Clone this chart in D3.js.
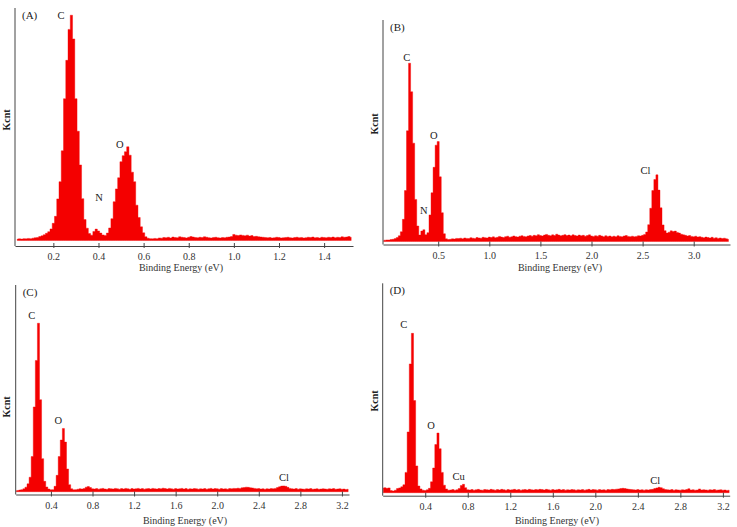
<!DOCTYPE html>
<html>
<head>
<meta charset="utf-8">
<script src="https://cdn.jsdelivr.net/npm/d3@7"></script>
<style>
  body { margin: 0; background: #fff; }
  svg text { font-family: "Liberation Serif", "DejaVu Serif", serif; }
</style>
</head>
<body>
<script>
// EDS spectra, counts in Kcnt (arbitrary, 100 = top of the y axis)

// (A) channels of 0.01 eV from 0.04 eV
const startA = 0.04, stepA = 0.01;
const countsA = [
  0.6, 0.7, 0.6, 0.8, 0.7, 0.9, 0.8, 1.0, 1.2,
  1.3, 1.7, 2.0, 2.5, 3.1, 3.8, 5.0, 7.4, 10.4, 17.9, 25.3, 38.6, 61, 77.5, 90.8, 96.9, 86.7,
  61, 47, 32.5, 18, 9, 5.3, 3.0, 2.3, 3.9, 4.9, 4.1, 3.2, 2.4, 2.2, 3.2, 5.4, 9.4, 16.7, 22.2,
  27, 33.9, 36.5, 38.2, 40.3, 36.7, 29.4, 25.3, 15.2, 9.9, 5.9, 3.3, 1.6, 1.0, 0.8,
  0.7, 0.9, 0.8, 1.1, 1.0, 1.3, 1.2, 1.4, 1.1, 1.5, 1.3, 1.2, 1.6, 1.4, 1.3, 1.1, 1.4, 1.7,
  1.5, 1.3, 1.2, 1.4, 1.3, 1.6, 1.4, 1.2, 1.1, 1.3, 1.4, 1.2, 1.1, 1.3, 1.2, 1.4, 1.5, 1.7,
  2.6, 2.3, 2.1, 2.4, 2.2, 2.0, 2.3, 1.9, 2.1, 1.7, 1.8, 1.6, 1.5,
  1.4, 1.3, 1.2, 1.3, 1.1, 1.2, 1.4, 1.3, 1.1, 1.2, 1.3, 1.4, 1.2, 1.1, 1.3, 1.4, 1.2, 1.3, 1.1, 1.2,
  1.4, 1.3, 1.5, 1.2, 1.3, 1.1, 1.4, 1.3, 1.2, 1.4, 1.3, 1.5, 1.2, 1.4, 1.3, 1.6, 1.4, 1.5, 1.7, 1.4
];

// (B) channels of 0.02 eV from -0.04 eV
const startB = -0.04, stepB = 0.02;
const countsB = [
  0.5, 0.6, 0.7, 0.7, 0.9, 1.0, 1.3, 1.8,
  2.6, 4.4, 10, 23, 50, 80.5, 67.6, 44.4, 19, 7, 2.9, 4.7, 5.3, 3.1, 4.0, 12, 22, 33.5, 43.5, 45.1,
  29.2, 13, 3.5, 1.2, 0.9,
  1.0, 1.2, 1.1, 1.4, 1.3, 1.5, 1.2, 1.6, 1.4, 1.3, 1.7, 1.5, 1.4, 1.8, 1.6, 1.5, 1.9, 1.7, 1.6, 2.0,
  1.8, 2.1, 1.7, 1.9, 2.3, 2.0, 1.8, 2.2, 2.4, 1.9, 2.1, 2.5, 2.2, 2.0, 2.4, 2.6, 2.3, 2.1, 2.5, 2.7,
  2.4, 2.8, 2.6, 3.1, 2.7, 2.5, 2.9, 3.2, 2.8, 2.6, 3.0, 2.7, 3.3, 2.9, 2.6, 2.8, 3.1, 2.7, 2.9, 2.6,
  3.0, 2.7, 2.5, 2.9, 2.6, 2.8, 2.4, 2.7, 3.0, 2.5, 2.3, 2.6, 2.4, 2.8, 2.5, 2.2, 2.6, 2.3, 2.5, 2.1,
  2.4, 2.2, 2.6, 2.3, 2.1, 2.5, 2.7, 2.3, 2.2, 2.4, 2.1, 2.3, 2.6, 2.5, 2.8,
  3.2, 4.3, 7.6, 15, 23, 28, 30.1, 23.2, 15.2, 7.5, 4.9, 3.8, 4.2, 4.8, 4.5, 4.7, 4.1, 3.8, 3.3, 3.0,
  2.8, 2.5, 2.7, 2.3, 2.1, 2.4, 2.0, 2.2, 1.9, 1.7, 2.0, 1.8, 1.6, 1.9, 1.5, 1.7, 1.4, 1.6, 1.3, 1.5, 1.2, 1.0
];

// (C) channels of 0.02 eV from 0.06 eV
const startC = 0.06, stepC = 0.02;
const countsC = [
  0.4, 0.6, 0.8, 1.0, 1.4, 2.2, 3.8,
  7, 17, 41, 63.5, 81.5, 44.5, 16, 5, 2.3, 1.3, 0.9, 1.0, 2.6, 7.9, 17, 25, 30.6, 24, 11, 3.4, 1.4, 0.9,
  1.0, 1.2, 1.4, 1.3, 1.5, 2.2, 2.5, 2.0, 1.4, 1.3, 1.5, 1.2, 1.4, 1.6, 1.3, 1.2, 1.5, 1.4, 1.3, 1.6,
  1.4, 1.2, 1.5, 1.3, 1.6, 1.4, 1.2, 1.5, 1.3, 1.4, 1.6, 1.3, 1.5, 1.2, 1.4, 1.5, 1.3, 1.6, 1.4, 1.3,
  1.5, 1.4, 1.7, 1.5, 1.3, 1.6, 1.4, 1.2, 1.5, 1.3, 1.4, 1.6, 1.3, 1.5, 1.2, 1.4, 1.3, 1.5, 1.4, 1.2,
  1.4, 1.3, 1.5, 1.2, 1.4, 1.6, 1.3, 1.5, 1.4, 1.2, 1.5, 1.3, 1.4, 1.2, 1.5, 1.4, 1.6, 1.5, 1.7, 1.6,
  1.9, 2.0, 2.2, 2.1, 1.9, 1.8, 1.6, 1.4, 1.5, 1.3, 1.4, 1.2, 1.4, 1.3, 1.5, 1.4, 1.6, 2.0, 2.4, 2.7,
  2.8, 2.6, 2.1, 1.6, 1.4, 1.3, 1.5, 1.2, 1.4, 1.3, 1.2, 1.4, 1.3, 1.5, 1.2, 1.3, 1.4, 1.2, 1.3, 1.4,
  1.3, 1.2, 1.4, 1.3, 1.5, 1.2, 1.3, 1.4, 1.2, 1.3, 1.1, 1.2
];

// (D) channels of 0.02 eV from 0 eV
const startD = 0, stepD = 0.02;
const countsD = [
  2.2, 2.4, 2.1, 2.3, 1.0, 0.8, 1.2, 2.0, 2.3, 2.8,
  3.8, 9.7, 29, 61.5, 76.1, 44, 12.8, 3.2, 1.8, 1.2, 1.0, 1.4, 2.1, 5.2, 11.8, 23, 28.5, 21, 9.7,
  3.6, 1.8, 1.2,
  1.3, 1.5, 1.2, 1.4, 2.0, 3.4, 4.0, 2.4, 1.4, 1.3, 1.5, 1.2, 1.4, 1.6, 1.3, 1.2, 1.5, 1.4, 1.3, 1.6,
  1.4, 1.2, 1.5, 1.3, 1.6, 1.4, 1.2, 1.5, 1.3, 1.4, 1.6, 1.3, 1.5, 1.2, 1.4, 1.5, 1.3, 1.6, 1.4, 1.3,
  1.5, 1.4, 1.6, 1.5, 1.3, 1.6, 1.4, 1.2, 1.5, 1.3, 1.4, 1.6, 1.3, 1.5, 1.2, 1.4, 1.3, 1.5, 1.4, 1.2,
  1.4, 1.3, 1.5, 1.2, 1.4, 1.6, 1.3, 1.5, 1.4, 1.2, 1.5, 1.3, 1.4, 1.2, 1.5, 1.4, 1.6, 1.5, 1.7, 1.8,
  2.0, 2.1, 2.0, 1.8, 1.6, 1.5, 1.4, 1.3, 1.5, 1.3, 1.4, 1.2, 1.4, 1.3, 1.5, 1.6, 2.0, 2.3, 2.6, 2.4,
  1.9, 1.5, 1.4, 1.3, 1.5, 1.2, 1.4, 1.3, 1.2, 1.4, 1.3, 1.5, 1.9, 1.3, 1.4, 1.2, 1.3, 1.8, 1.3, 1.4,
  1.3, 1.2, 1.4, 1.3, 1.5, 1.2, 1.3, 1.4, 1.2, 1.3, 1.1, 1.2
];

// tick values of the energy axes
const ticksA = [0.2, 0.4, 0.6, 0.8, 1.0, 1.2, 1.4];
const ticksB = [0.5, 1.0, 1.5, 2.0, 2.5, 3.0];
const ticksCD = [0.4, 0.8, 1.2, 1.6, 2.0, 2.4, 2.8, 3.2];

// element labels: name, energy, count where the label sits
const elemA = ["C", "N", "O"];
const elemEA = [0.234, 0.402, 0.495];
const elemKA = [97, 18.7, 41.5];
const elemB = ["C", "N", "O", "Cl"];
const elemEB = [0.193, 0.359, 0.457, 2.529];
const elemKB = [83.3, 14.2, 48.1, 32.3];
const elemC = ["C", "O", "Cl"];
const elemEC = [0.215, 0.471, 2.643];
const elemKC = [85.5, 34.3, 7.1];
const elemD = ["C", "O", "Cu", "Cl"];
const elemED = [0.197, 0.455, 0.714, 2.563];
const elemKD = [80.6, 32.3, 7.6, 6.1];

const red = "#f40000", axisCol = "#444";
const width = 737, height = 527;

const svg = d3.select("body").append("svg")
  .attr("width", width).attr("height", height);

const panels = [
  { tag: "(A)", start: startA, step: stepA, counts: countsA, ticks: ticksA,
    names: elemA, ens: elemEA, ks: elemKA,
    xDomain: [0.03, 1.528], left: 15, right: 353, top: 8, zeroY: 240.5, axisY: 246,
    titleX: 181, titleY: 271, kX: 6, kY: 120 },
  { tag: "(B)", start: startB, step: stepB, counts: countsB, ticks: ticksB,
    names: elemB, ens: elemEB, ks: elemKB,
    xDomain: [-0.04, 3.355], left: 383, right: 730, top: 20, zeroY: 241.5, axisY: 244.5,
    titleX: 560, titleY: 271, kX: 374, kY: 124 },
  { tag: "(C)", start: startC, step: stepC, counts: countsC, ticks: ticksCD,
    names: elemC, ens: elemEC, ks: elemKC,
    xDomain: [0.061, 3.268], left: 15.7, right: 349, top: 285, zeroY: 491.7, axisY: 494.5,
    titleX: 185, titleY: 524, kX: 6, kY: 407 },
  { tag: "(D)", start: startD, step: stepD, counts: countsD, ticks: ticksCD,
    names: elemD, ens: elemED, ks: elemKD,
    xDomain: [0, 3.264], left: 382.7, right: 729.7, top: 283.3, zeroY: 492.7, axisY: 495.7,
    titleX: 557, titleY: 524, kX: 374, kY: 401 }
];

panels.forEach((p, idx) => {
  const x = d3.scaleLinear().domain(p.xDomain).range([p.left, p.right]);
  const y = d3.scaleLinear().domain([0, 100]).range([p.zeroY, p.top]);

  const clipId = "clip" + idx;
  svg.append("clipPath").attr("id", clipId)
    .append("rect")
    .attr("x", p.left + 0.5).attr("y", p.top)
    .attr("width", p.right - p.left - 0.5).attr("height", p.axisY - p.top);

  const pts = p.counts.map((c, i) => [p.start + i * p.step, c]);
  const area = d3.area()
    .curve(d3.curveStep)
    .x(d => x(d[0]))
    .y0(y(0))
    .y1(d => y(d[1]));

  svg.append("path")
    .datum(pts)
    .attr("clip-path", `url(#${clipId})`)
    .attr("d", area)
    .attr("fill", red)
    .attr("stroke", red)
    .attr("stroke-width", 0.4);

  // energy axis
  const ax = d3.axisBottom(x)
    .tickValues(p.ticks)
    .tickFormat(d3.format(".1f"))
    .tickSizeInner(2)
    .tickSizeOuter(0)
    .tickPadding(5);
  const gx = svg.append("g")
    .attr("transform", `translate(0,${p.axisY})`)
    .call(ax);
  gx.select(".domain").attr("stroke", axisCol);
  gx.selectAll(".tick line").attr("y1", -3).attr("stroke", axisCol);
  gx.selectAll(".tick text")
    .attr("fill", "#333")
    .style("font-size", "10px");

  // y axis line, no ticks
  svg.append("line")
    .attr("x1", p.left).attr("x2", p.left)
    .attr("y1", p.top).attr("y2", p.axisY)
    .attr("stroke", axisCol);

  svg.append("text")
    .attr("x", p.titleX).attr("y", p.titleY)
    .attr("text-anchor", "middle")
    .attr("fill", "#333")
    .style("font-size", "10px")
    .text("Binding Energy (eV)");

  svg.append("text")
    .attr("transform", `translate(${p.kX},${p.kY}) rotate(-90)`)
    .attr("text-anchor", "middle")
    .attr("dy", "0.35em")
    .attr("fill", "#222")
    .style("font-size", "10px")
    .style("font-weight", "bold")
    .text("Kcnt");

  svg.append("text")
    .attr("x", p.left + 7).attr("y", p.top + 7)
    .attr("dy", "0.35em")
    .attr("fill", "#222")
    .style("font-size", "11px")
    .text(p.tag);

  svg.selectAll(null)
    .data(p.names)
    .enter().append("text")
    .attr("x", (d, i) => x(p.ens[i]))
    .attr("y", (d, i) => y(p.ks[i]))
    .attr("dy", "0.35em")
    .attr("text-anchor", "middle")
    .attr("fill", "#222")
    .style("font-size", "10.5px")
    .text(d => d);
});
</script>
</body>
</html>
